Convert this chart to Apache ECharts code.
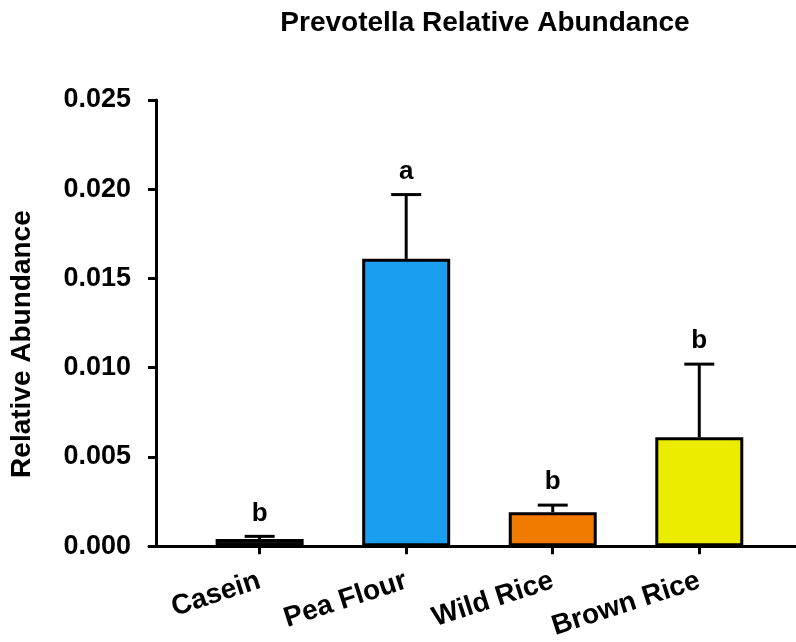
<!DOCTYPE html>
<html>
<head>
<meta charset="utf-8">
<script src="https://cdn.jsdelivr.net/npm/echarts@6/dist/echarts.min.js"></script>
<style>
  html, body { margin: 0; padding: 0; background: #fff; }
  #chart { width: 796px; height: 642px; }
</style>
</head>
<body>
<div id="chart"></div>
<script>
// Diet groups and Prevotella relative abundance (mean with upper SEM bar)
var categories = ['Casein', 'Pea Flour', 'Wild Rice', 'Brown Rice'];
var means = [0.0004, 0.0161, 0.0019, 0.0061];
var sem = [0.00015, 0.0036, 0.0004, 0.0041];
var letters = ['b', 'a', 'b', 'b'];
var yTicks = [0, 0.005, 0.010, 0.015, 0.020, 0.025];

var barColors = ['#111111', '#1a9ff0', '#f07b00', '#ecec00'];
var FONT = '"Liberation Sans", Arial, Helvetica, sans-serif';

var chart = echarts.init(document.getElementById('chart'), null, { renderer: 'canvas' });

var barData = means.map(function (v, i) {
  return { value: [i, v], itemStyle: { color: barColors[i] } };
});
var errData = means.map(function (v, i) { return [i, v, v + sem[i], i]; });

chart.setOption({
  animation: false,
  backgroundColor: '#ffffff',
  title: {
    text: 'Prevotella Relative Abundance',
    left: 480,
    top: 4,
    textAlign: 'center',
    textStyle: { fontFamily: FONT, fontWeight: 'bold', fontSize: 28, color: '#000' }
  },
  grid: { left: 147, right: 0, top: 100, bottom: 94, containLabel: false },
  xAxis: {
    type: 'value',
    min: -0.755,
    max: 3.66,
    splitLine: { show: false },
    axisLine: { show: true, onZero: false, lineStyle: { color: '#000', width: 3 } },
    axisTick: {
      show: true, length: 8, inside: false,
      customValues: [0, 1, 2, 3],
      lineStyle: { color: '#000', width: 3 }
    },
    axisLabel: {
      show: true,
      customValues: [0, 1, 2, 3],
      rotate: 18,
      margin: 34,
      formatter: function (v) { return categories[Math.round(v)]; },
      fontFamily: FONT, fontWeight: 'bold', fontSize: 28, color: '#000'
    }
  },
  yAxis: {
    type: 'value',
    min: yTicks[0],
    max: yTicks[yTicks.length - 1],
    interval: 0.005,
    offset: -7,
    name: 'Relative Abundance',
    nameLocation: 'middle',
    nameRotate: 90,
    nameGap: 120,
    nameTextStyle: {
      fontFamily: FONT, fontWeight: 'bold', fontSize: 28, color: '#000',
      padding: [0, 42, 0, 0]
    },
    splitLine: { show: false },
    axisLine: { show: true, onZero: false, lineStyle: { color: '#000', width: 3 } },
    axisTick: { show: true, length: 8, inside: false, lineStyle: { color: '#000', width: 3 } },
    axisLabel: {
      margin: 25,
      formatter: function (v) { return v.toFixed(3); },
      fontFamily: FONT, fontWeight: 'bold', fontSize: 27, color: '#000'
    }
  },
  series: [
    {
      type: 'bar',
      data: barData,
      barWidth: 88,
      itemStyle: { borderColor: '#000', borderWidth: 3 },
      z: 2
    },
    {
      type: 'custom',
      data: errData,
      z: 1,
      renderItem: function (params, api) {
        var idx = api.value(3);
        var base = api.coord([api.value(0), api.value(1)]);
        var top = api.coord([api.value(0), api.value(2)]);
        var half = 15;
        var style = { stroke: '#000', lineWidth: 3 };
        return {
          type: 'group',
          children: [
            { type: 'line', shape: { x1: base[0], y1: base[1], x2: top[0], y2: top[1] }, style: style },
            { type: 'line', shape: { x1: top[0] - half, y1: top[1], x2: top[0] + half, y2: top[1] }, style: style },
            {
              type: 'text',
              style: {
                text: letters[idx], x: top[0], y: top[1] - 23,
                textAlign: 'center', textVerticalAlign: 'middle',
                font: 'bold 26px ' + FONT, fill: '#000'
              }
            }
          ]
        };
      }
    }
  ]
});
</script>
</body>
</html>
